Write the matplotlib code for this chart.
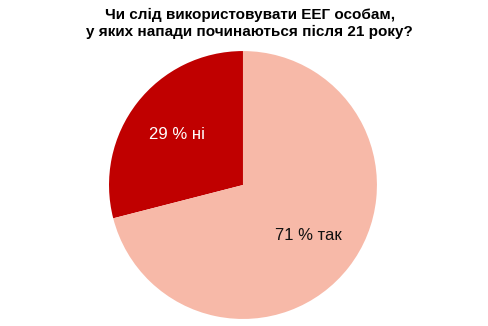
import matplotlib
matplotlib.use("Agg")
import matplotlib.pyplot as plt

plt.rcParams['font.family'] = ['Liberation Sans', 'DejaVu Sans']

title = 'Чи слід використовувати ЕЕГ особам,\nу яких напади починаються після 21 року?'
answers = ['ні', 'так']
shares = [29, 71]
colors = ['#C00000', '#F7B9A8']
text_colors = ['white', '#111111']

fig = plt.figure(figsize=(4.88, 3.26), dpi=100)
ax = fig.add_axes([0.2234, 0.0215, 0.549, 0.822])

labels = ['%d %% %s' % (s, a) for s, a in zip(shares, answers)]
wedges, texts = ax.pie(shares, colors=colors, startangle=90, counterclock=True,
                       labels=labels, labeldistance=0.62,
                       textprops={'fontsize': 12, 'ha': 'center', 'va': 'center'},
                       wedgeprops={'linewidth': 0})
for t, c in zip(texts, text_colors):
    t.set_color(c)
ax.set_aspect('equal')
ax.set_xlim(-1, 1)
ax.set_ylim(-1, 1)

fig.text(0.512, 0.975, title, ha='center', va='top', fontsize=11,
         fontweight='bold', linespacing=1.25)

fig.savefig('out.png', dpi=100)
